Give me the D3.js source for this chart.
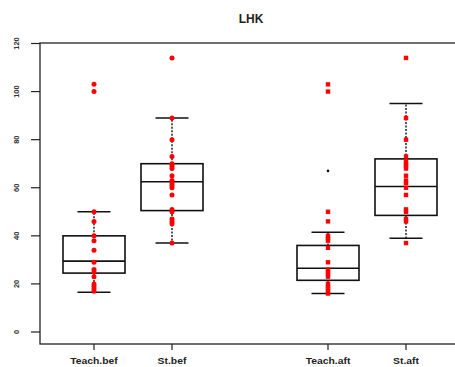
<!DOCTYPE html>
<html>
<head>
<meta charset="utf-8">
<script src="https://cdn.jsdelivr.net/npm/d3@7"></script>
<style>
  body { margin: 0; background: #fff; }
  svg { display: block; font-family: "Liberation Sans", Arial, sans-serif; }
</style>
</head>
<body>
<div id="chart"></div>
<script>
// groups and their slot on the x axis
var groups = ["Teach.bef", "St.bef", "Teach.aft", "St.aft"];
var slots = [1, 2, 4, 5];

// box statistics
var q1 = [24.5, 50.5, 21.5, 48.5];
var med = [29.5, 62.5, 26.5, 60.5];
var q3 = [40, 70, 36, 72];
var whiskLo = [16.5, 37, 16, 39];
var whiskHi = [50, 89, 41.5, 95];
var outliers = [[100, 103], [114], [67, 100, 103], [114]];

// individual observations (red points)
var pts = [
  [17, 18, 19, 20, 23, 25, 26, 29, 34, 38, 40, 46, 50, 100, 103],
  [37, 45, 46, 47, 50, 51, 57, 60, 61, 62, 63, 65, 68, 69, 70, 73, 80, 89, 114],
  [16, 17, 18, 19, 20, 23, 24, 25, 26, 29, 35, 38, 39, 40, 46, 50, 100, 103],
  [37, 46, 47, 50, 51, 57, 60, 62, 63, 65, 68, 69, 70, 71, 73, 80, 89, 114]
];
var yTicks = [0, 20, 40, 60, 80, 100, 120];

var width = 455, height = 367;
var box = {left: 40, top: 43, right: 462, bottom: 344};

var svg = d3.select("#chart").append("svg")
    .attr("width", width)
    .attr("height", height);

var x = d3.scaleLinear().domain([1, 5]).range([94, 406]);
var y = d3.scaleLinear().domain([0, 120]).range([332, 43.5]);

// title
svg.append("text")
    .attr("x", 251).attr("y", 23)
    .attr("text-anchor", "middle")
    .attr("font-size", 12).attr("font-weight", "bold")
    .attr("fill", "#222")
    .text("LHK");

// plot frame
svg.append("rect")
    .attr("x", box.left).attr("y", box.top)
    .attr("width", box.right - box.left).attr("height", box.bottom - box.top)
    .attr("fill", "none").attr("stroke", "#222").attr("stroke-width", 1.3);

// y axis ticks + vertical labels
var yAx = svg.append("g");
yAx.selectAll("line").data(yTicks).join("line")
    .attr("x1", 31).attr("x2", box.left)
    .attr("y1", d => y(d)).attr("y2", d => y(d))
    .attr("stroke", "#222").attr("stroke-width", 1.2);
yAx.selectAll("text").data(yTicks).join("text")
    .attr("transform", d => `translate(18.5,${y(d)}) rotate(-90)`)
    .attr("text-anchor", "middle")
    .attr("font-size", 7.5)
    .attr("font-weight", "bold")
    .attr("fill", "#333")
    .text(d => d);

// x axis ticks + labels
var xAx = svg.append("g");
xAx.selectAll("line").data(slots).join("line")
    .attr("x1", d => x(d)).attr("x2", d => x(d))
    .attr("y1", box.bottom).attr("y2", box.bottom + 6)
    .attr("stroke", "#222").attr("stroke-width", 1.2);
xAx.selectAll("text").data(groups).join("text")
    .attr("transform", (d, i) => `translate(${x(slots[i])},${box.bottom + 20}) scale(1.22,1)`)
    .attr("text-anchor", "middle")
    .attr("font-size", 8.5)
    .attr("font-weight", "bold")
    .attr("fill", "#222")
    .text(d => d);

var boxW = 31, capW = 16.5;

var g = svg.append("g").selectAll("g").data(groups).join("g");

// whiskers (dotted)
g.append("line")
    .attr("x1", (d, i) => x(slots[i])).attr("x2", (d, i) => x(slots[i]))
    .attr("y1", (d, i) => y(q3[i])).attr("y2", (d, i) => y(whiskHi[i]))
    .attr("stroke", "#111").attr("stroke-width", 1.4).attr("stroke-dasharray", "2,1.5");
g.append("line")
    .attr("x1", (d, i) => x(slots[i])).attr("x2", (d, i) => x(slots[i]))
    .attr("y1", (d, i) => y(q1[i])).attr("y2", (d, i) => y(whiskLo[i]))
    .attr("stroke", "#111").attr("stroke-width", 1.4).attr("stroke-dasharray", "2,1.5");

// caps
[whiskHi, whiskLo].forEach(function(arr) {
  g.append("line")
      .attr("x1", (d, i) => x(slots[i]) - capW).attr("x2", (d, i) => x(slots[i]) + capW)
      .attr("y1", (d, i) => y(arr[i])).attr("y2", (d, i) => y(arr[i]))
      .attr("stroke", "#111").attr("stroke-width", 1.5);
});

// boxes
g.append("rect")
    .attr("x", (d, i) => x(slots[i]) - boxW)
    .attr("y", (d, i) => y(q3[i]))
    .attr("width", boxW * 2)
    .attr("height", (d, i) => y(q1[i]) - y(q3[i]))
    .attr("fill", "none").attr("stroke", "#111").attr("stroke-width", 1.6);
g.append("line")
    .attr("x1", (d, i) => x(slots[i]) - boxW).attr("x2", (d, i) => x(slots[i]) + boxW)
    .attr("y1", (d, i) => y(med[i])).attr("y2", (d, i) => y(med[i]))
    .attr("stroke", "#111").attr("stroke-width", 1.6);

// outliers (small black dots)
g.each(function(d, i) {
  d3.select(this).selectAll("circle.out").data(outliers[i]).join("circle")
      .attr("class", "out")
      .attr("cx", x(slots[i])).attr("cy", v => y(v))
      .attr("r", 1.3).attr("fill", "#111");
});

// red observations
g.each(function(d, i) {
  var sel = d3.select(this);
  if (i < 2) {
    sel.selectAll("circle.pt").data(pts[i]).join("circle")
        .attr("class", "pt")
        .attr("cx", x(slots[i])).attr("cy", v => y(v))
        .attr("r", 2.5).attr("fill", "red");
  } else {
    sel.selectAll("rect.pt").data(pts[i]).join("rect")
        .attr("class", "pt")
        .attr("x", x(slots[i]) - 2.2).attr("y", v => y(v) - 2.2)
        .attr("width", 4.4).attr("height", 4.4)
        .attr("fill", "red");
  }
});
</script>
</body>
</html>
